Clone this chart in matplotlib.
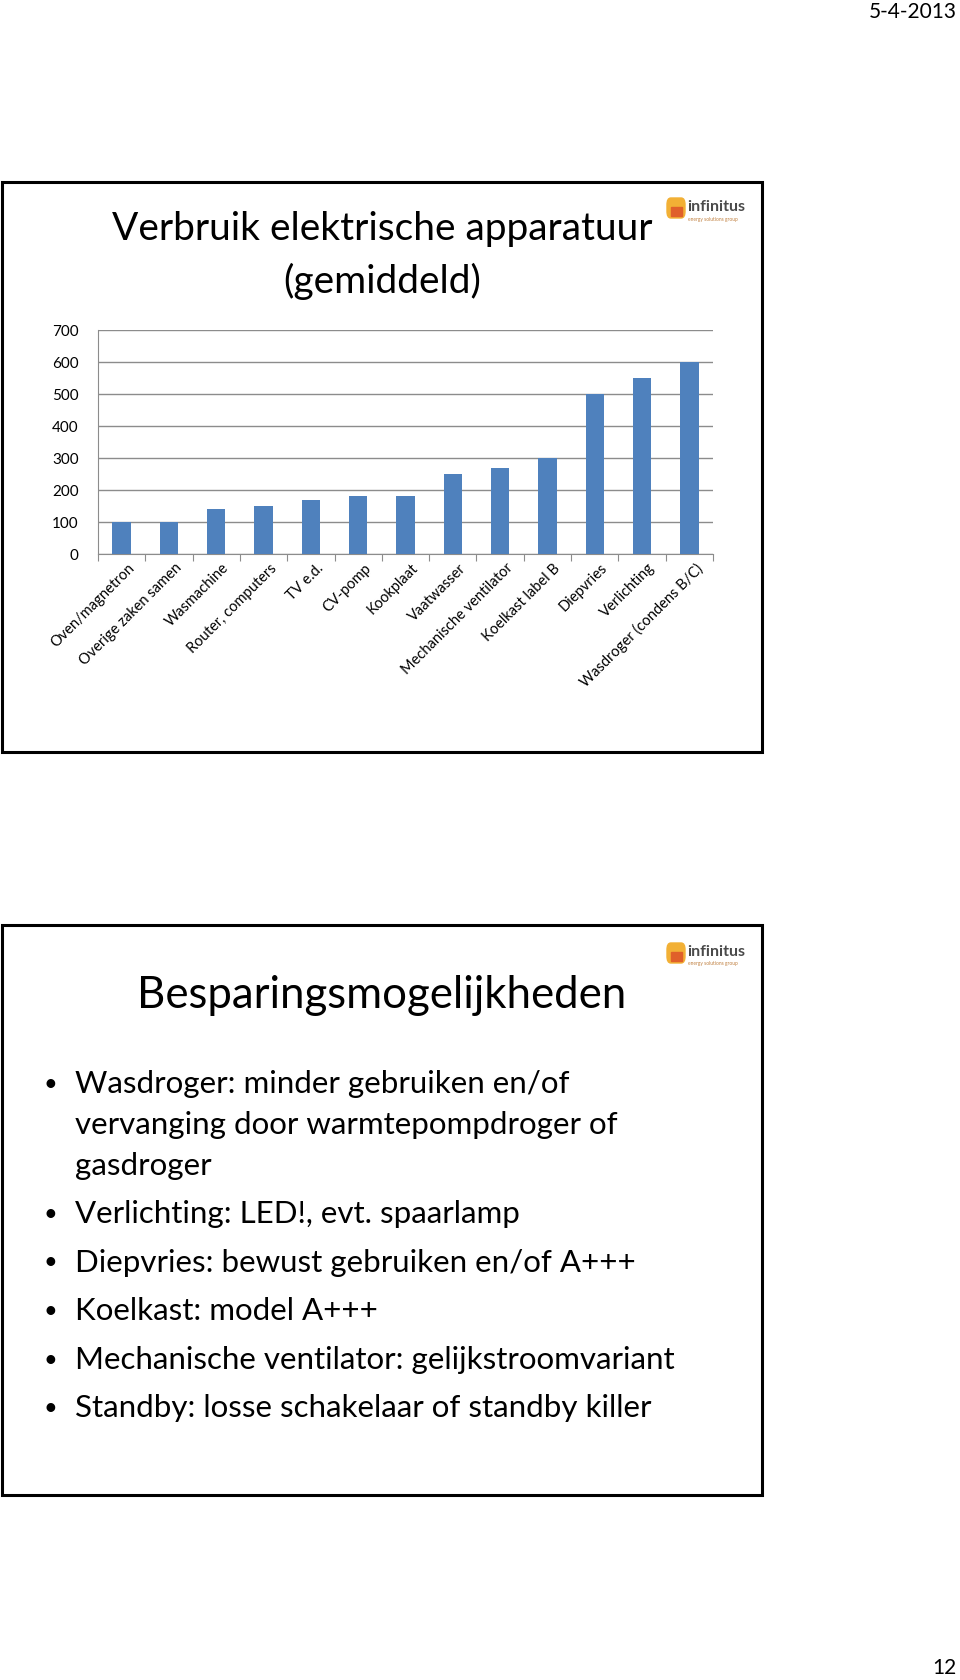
import matplotlib
matplotlib.use("Agg")
import matplotlib.pyplot as plt
from matplotlib.patches import Rectangle, FancyBboxPatch

plt.rcParams['font.family'] = ['Lato', 'DejaVu Sans']

# Data
categorieen = ["Oven/magnetron", "Overige zaken samen", "Wasmachine",
               "Router, computers", "TV e.d.", "CV-pomp", "Kookplaat",
               "Vaatwasser", "Mechanische ventilator", "Koelkast label B",
               "Diepvries", "Verlichting", "Wasdroger (condens B/C)"]
verbruik = [100, 100, 140, 150, 170, 180, 180, 250, 270, 300, 500, 550, 600]
y_ticks = [0, 100, 200, 300, 400, 500, 600, 700]

bullets = [
    "Wasdroger: minder gebruiken en/of\nvervanging door warmtepompdroger of\ngasdroger",
    "Verlichting: LED!, evt. spaarlamp",
    "Diepvries: bewust gebruiken en/of A+++",
    "Koelkast: model A+++",
    "Mechanische ventilator: gelijkstroomvariant",
    "Standby: losse schakelaar of standby killer",
]

W, H = 960, 1680
fig = plt.figure(figsize=(W / 100, H / 100), dpi=100)


def fx(x):
    return x / W


def fy(y):
    return 1 - y / H


# Slide borders
for (x0, y0, x1, y1) in [(2, 182, 762, 752), (2, 925, 762, 1495)]:
    fig.patches.append(Rectangle((fx(x0), fy(y1)), fx(x1 - x0), (y1 - y0) / H,
                                 transform=fig.transFigure, fill=False,
                                 edgecolor="black", linewidth=2.2))

# Header / footer
fig.text(fx(957), fy(12), "5-4-2013", ha="right", va="center", fontsize=15)
fig.text(fx(957), fy(1668), "12", ha="right", va="center", fontsize=15)

# Logos
for ly in (208, 953):
    fig.patches.append(FancyBboxPatch((fx(667), fy(ly + 10)), fx(18), 20 / H,
                                      boxstyle="round,pad=0,rounding_size=0.004",
                                      transform=fig.transFigure,
                                      color="#f2b035"))
    fig.patches.append(Rectangle((fx(671), fy(ly + 8)), fx(11), 9 / H,
                                 transform=fig.transFigure, color="#e0602a"))
    fig.text(fx(687), fy(ly - 1), "infinitus", ha="left", va="center",
             fontsize=11.5, fontweight="bold", color="#4a4a4a")
    fig.text(fx(688), fy(ly + 11), "energy solutions group", ha="left",
             va="center", fontsize=3.5, color="#c08040")

# Slide 1 title
fig.text(fx(382), fy(229), "Verbruik elektrische apparatuur", ha="center",
         va="center", fontsize=28)
fig.text(fx(382), fy(281), "(gemiddeld)", ha="center", va="center", fontsize=28)

# Chart
ax = fig.add_axes([fx(98), fy(554), fx(713 - 98), (554 - 330) / H])
x = list(range(len(categorieen)))
ax.bar(x, verbruik, width=0.39, color="#4F81BD", zorder=3)
ax.set_xlim(-0.5, len(categorieen) - 0.5)
ax.set_ylim(0, 700)
ax.set_yticks(y_ticks)
ax.set_yticklabels([str(v) for v in y_ticks], fontsize=11)
ax.yaxis.grid(True, color="#8c8c8c", linewidth=1.0, zorder=0)
ax.tick_params(axis="y", length=0, pad=14)
ax.set_xticks([i - 0.5 for i in range(len(categorieen) + 1)])
ax.set_xticklabels([])
ax.tick_params(axis="x", length=5, color="#8c8c8c", direction="out")
for s in ["top", "right"]:
    ax.spines[s].set_visible(False)
for s in ["left", "bottom"]:
    ax.spines[s].set_color("#8c8c8c")
for i, lab in enumerate(categorieen):
    ax.text(i + 0.12, -22, lab, rotation=45, rotation_mode="anchor",
            ha="right", va="top", fontsize=10.5,
            transform=ax.transData, clip_on=False)

# Slide 2 title
fig.text(fx(382), fy(996), "Besparingsmogelijkheden", ha="center",
         va="center", fontsize=31.5)

# Bullets
line_h = 41
y = 1084
for b in bullets:
    fig.text(fx(50), fy(y), "\u2022", ha="center", va="center", fontsize=17)
    n = b.count("\n") + 1
    for k, line in enumerate(b.split("\n")):
        fig.text(fx(75), fy(y + k * line_h), line, ha="left", va="center",
                 fontsize=22.5)
    y += (n - 1) * line_h + 48.5

fig.savefig("out.png", dpi=100)
